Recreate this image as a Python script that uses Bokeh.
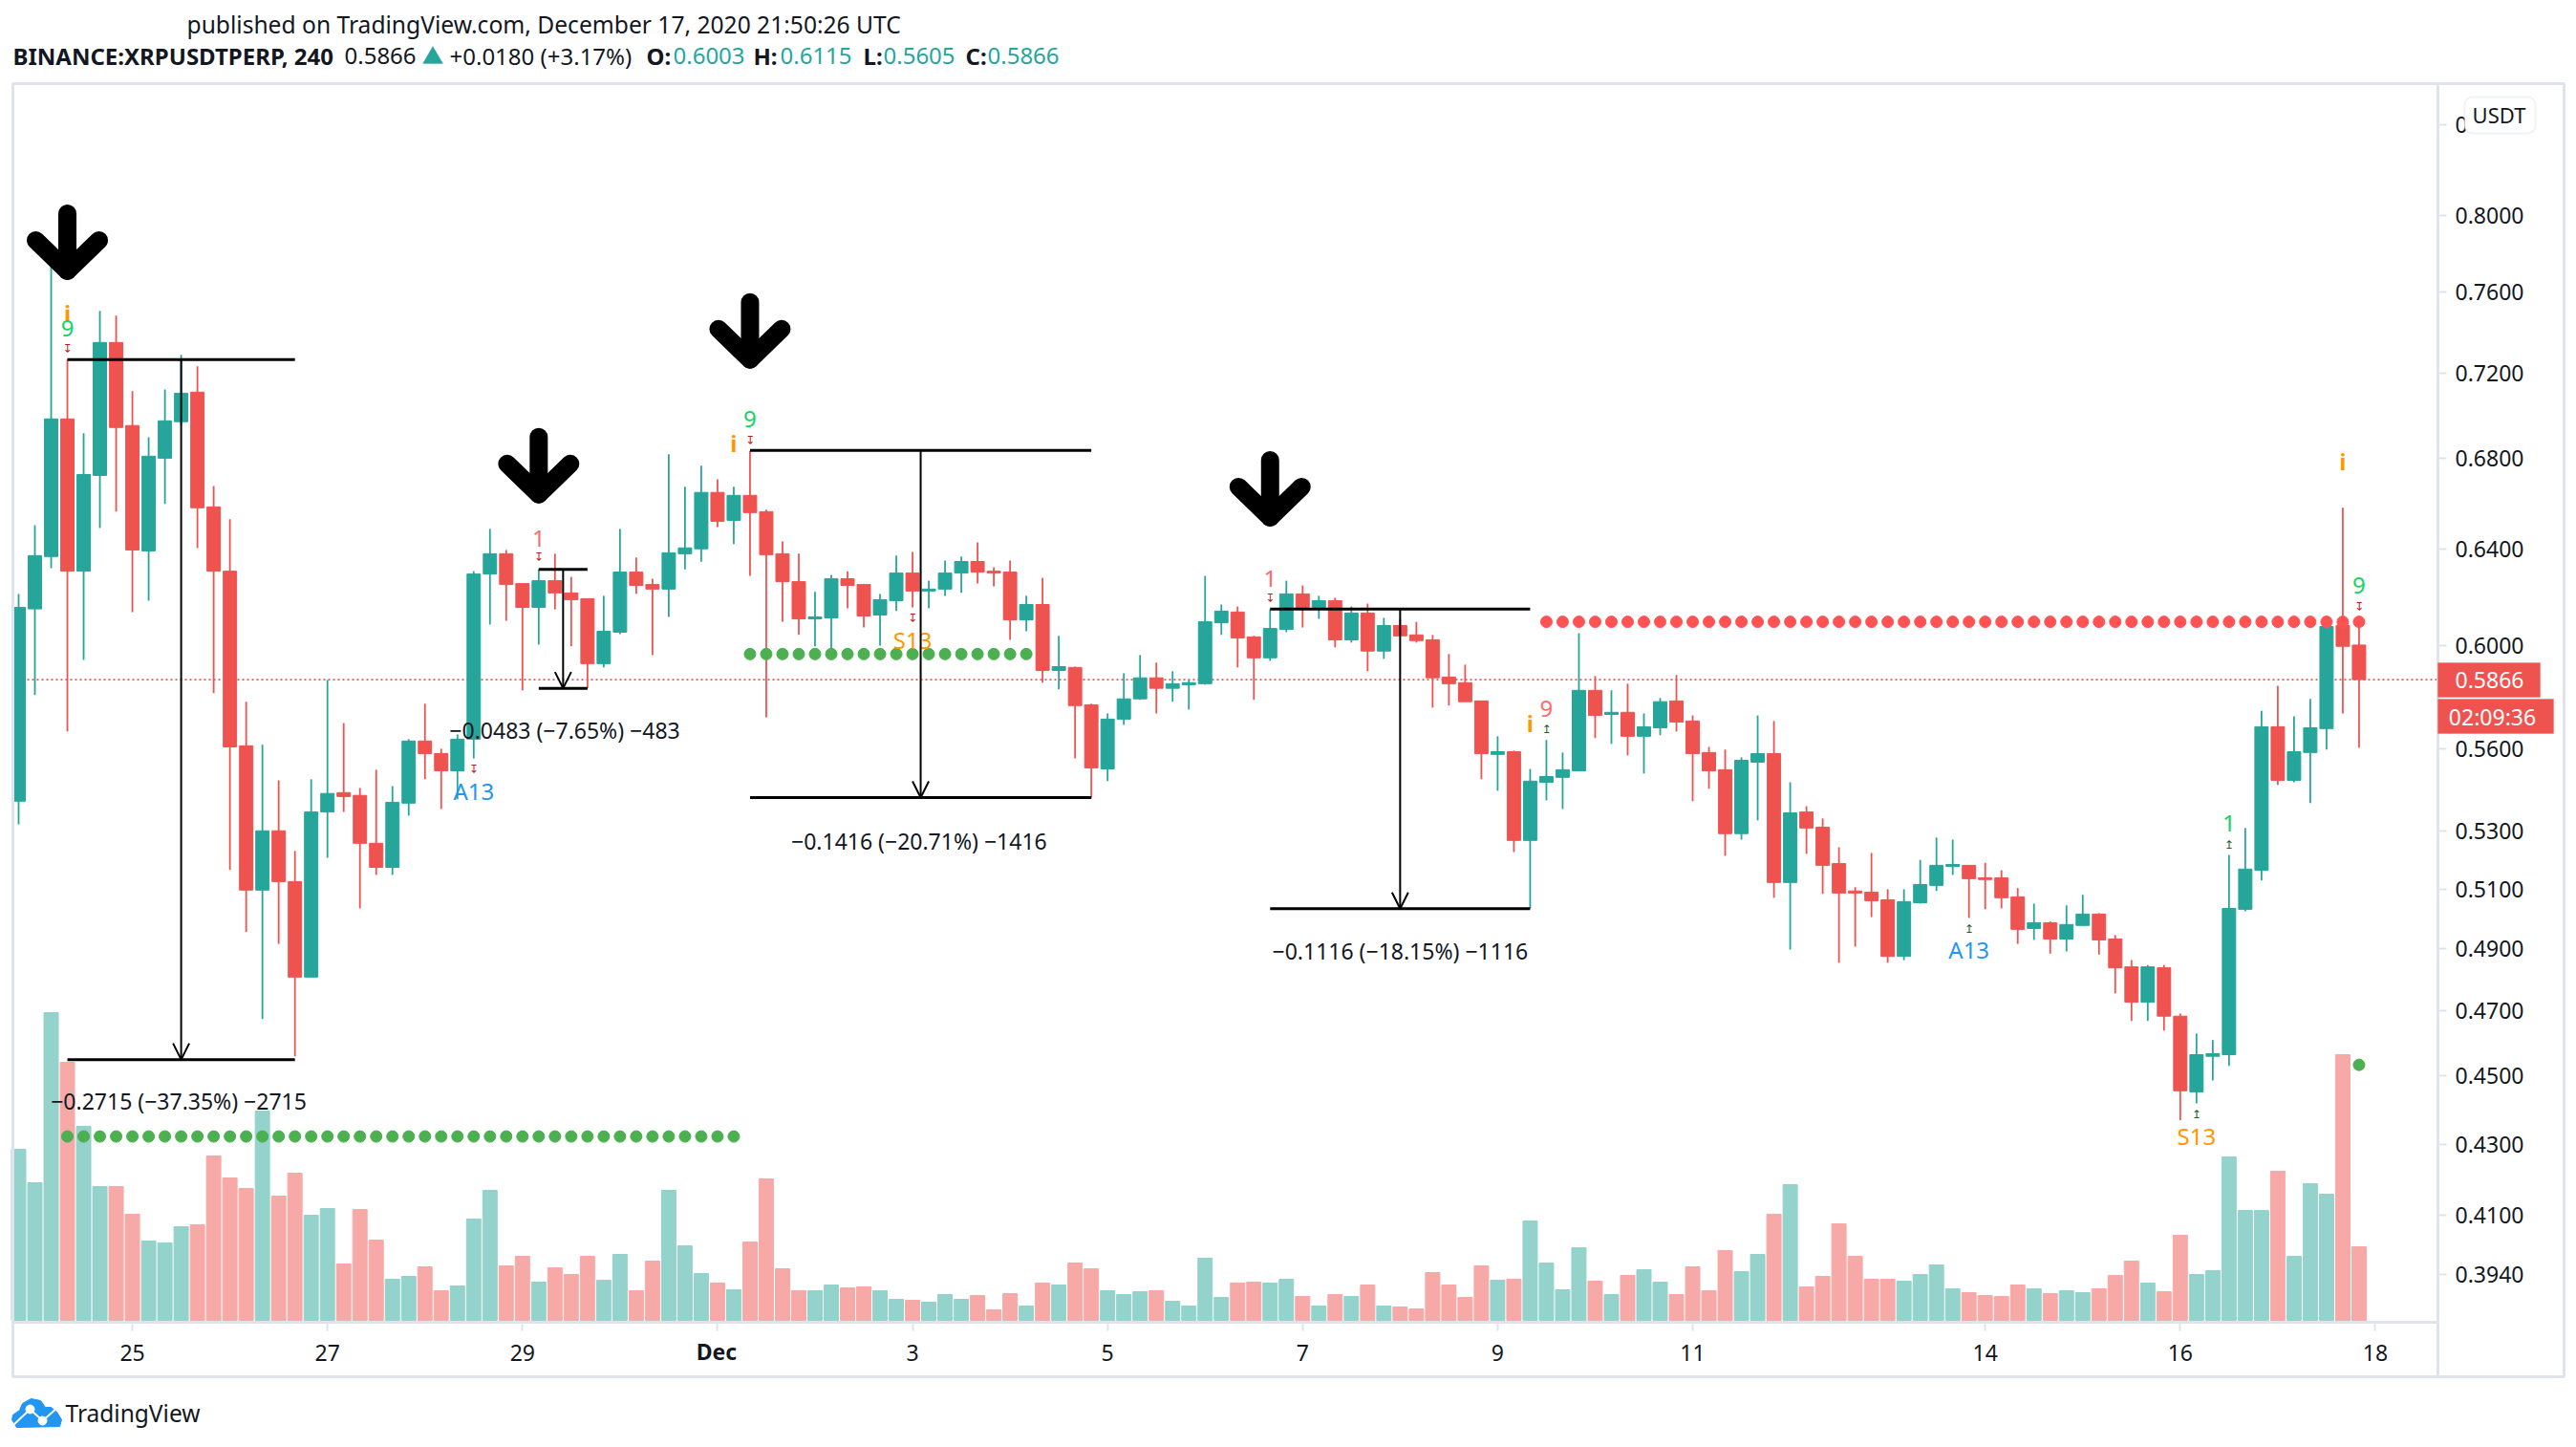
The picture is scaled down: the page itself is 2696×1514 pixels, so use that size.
import math
from bokeh.plotting import figure
from bokeh.models import (Range1d, LinearScale, FixedTicker, PrintfTickFormatter, Label,
                          PolyAnnotation, BoxAnnotation, ColumnDataSource, Arrow, OpenHead)
from bokeh.core.properties import value
from bokeh.embed import file_html
from bokeh.resources import INLINE

opens = [.5408,.6150,.6369,.6983,.6307,.6724,.7349,.6952,.6393,.6802,.6970,.7109,.6584,.6307,.5612,.5096,.5302,.5125,.4808,.5369,.5439,.5429,.5258,.5174,.5401,.5630,.5583,.5519,.5637,.6295,
 .6381,.6255,.6156,.6267,.6216,.6192,.5929,.6055,.6303,.6251,.6232,.6381,.6402,.6648,.6525,.6635,.6563,.6381,.6263,.6109,.6113,.6275,.6251,.6125,.6184,.6299,.6224,.6232,.6299,.6348,
 .6307,.6303,.6105,.6168,.5902,.5914,.5768,.5526,.5713,.5791,.5873,.5832,.5846,.5850,.6093,.6137,.6036,.5952,.6066,.6212,.6156,.6184,.6024,.6133,.5979,.6082,.6044,.6024,.5876,.5854,
 .5783,.5580,.5590,.5268,.5477,.5495,.5519,.5824,.5731,.5739,.5648,.5680,.5783,.5706,.5587,.5523,.5292,.5551,.5583,.5122,.5369,.5315,.5187,.5093,.5089,.5063,.4875,.5053,.5112,.5177,
 .5181,.5138,.5138,.5073,.4967,.4986,.4932,.4977,.5015,.4932,.4841,.4728,.4838,.4684,.4453,.4560,.4565,.5031,.5164,.5684,.5484,.5587,.5677,.6082,.6003]
highs = [.6212,.6504,.7748,.7265,.6916,.7506,.7482,.7114,.6898,.7122,.7289,.7233,.6677,.6530,.5780,.5616,.5484,.5231,.5488,.5865,.5698,.5456,.5523,.5463,.5637,.5772,.5601,.5655,.6307,.6488,
 .6397,.6255,.6315,.6381,.6283,.6192,.6204,.6488,.6365,.6275,.6820,.6673,.6768,.6707,.6673,.6835,.6572,.6434,.6381,.6220,.6291,.6307,.6251,.6212,.6373,.6389,.6267,.6352,.6369,.6430,
 .6324,.6352,.6204,.6279,.6040,.5917,.5772,.5735,.5891,.5963,.5933,.5899,.5865,.6287,.6168,.6160,.6040,.6148,.6267,.6247,.6204,.6196,.6160,.6172,.6113,.6109,.6097,.6044,.5967,.5925,
 .5783,.5648,.5594,.5526,.5634,.5587,.6051,.5880,.5824,.5850,.5735,.5794,.5884,.5727,.5608,.5598,.5569,.5727,.5706,.5477,.5390,.5346,.5244,.5106,.5224,.5099,.5099,.5200,.5278,.5271,
 .5181,.5190,.5164,.5103,.5050,.4990,.5044,.5080,.5018,.4945,.4863,.4847,.4847,.4692,.4630,.4610,.5217,.5312,.5745,.5842,.5724,.5791,.6078,.6580,.6115]
lows = [.5325,.5806,.6320,.5666,.5944,.6492,.6563,.6137,.6184,.6597,.6952,.6405,.5813,.5165,.4955,.4675,.4916,.4560,.4808,.5207,.5369,.5034,.5148,.5148,.5356,.5488,.5380,.5415,.5565,.6086,
 .6101,.5824,.6005,.6148,.5998,.5832,.5914,.6047,.6212,.5963,.6117,.6315,.6347,.6496,.6422,.6287,.5720,.6097,.6044,.5998,.5952,.6152,.6074,.6001,.6141,.6156,.6152,.6204,.6216,.6255,
 .6243,.6024,.6059,.5854,.5828,.5565,.5421,.5481,.5691,.5787,.5735,.5780,.5750,.5846,.6044,.5914,.5787,.5940,.6055,.6074,.6109,.5994,.6013,.5899,.5948,.6040,.6013,.5757,.5765,.5780,
 .5488,.5446,.5227,.5034,.5411,.5380,.5519,.5641,.5619,.5576,.5509,.5652,.5666,.5408,.5453,.5214,.5271,.5339,.5070,.4897,.5221,.5083,.4854,.4907,.5005,.4854,.4863,.5050,.5093,.5148,
 .5002,.5031,.5034,.4916,.4929,.4884,.4891,.4977,.4881,.4756,.4669,.4669,.4639,.4369,.4419,.4487,.4531,.5024,.5129,.5467,.5477,.5401,.5598,.5735,.5605]
closes = [.6156,.6373,.6983,.6307,.6728,.7349,.6943,.6397,.6811,.6974,.7104,.6580,.6307,.5608,.5096,.5302,.5125,.4808,.5369,.5436,.5425,.5258,.5174,.5404,.5630,.5583,.5519,.5637,.6295,.6381,
 .6251,.6156,.6267,.6216,.6188,.5929,.6059,.6303,.6247,.6232,.6385,.6406,.6648,.6521,.6635,.6559,.6377,.6263,.6109,.6117,.6275,.6247,.6121,.6188,.6299,.6224,.6232,.6299,.6348,.6303,
 .6299,.6105,.6168,.5902,.5917,.5765,.5530,.5713,.5791,.5873,.5832,.5850,.5854,.6097,.6141,.6032,.5952,.6070,.6212,.6156,.6184,.6024,.6133,.5979,.6082,.6040,.6021,.5873,.5850,.5780,
 .5583,.5590,.5268,.5481,.5498,.5523,.5824,.5727,.5739,.5648,.5684,.5780,.5702,.5583,.5519,.5292,.5558,.5583,.5122,.5366,.5312,.5181,.5086,.5086,.5060,.4875,.5057,.5115,.5181,.5184,
 .5135,.5132,.5070,.4964,.4986,.4932,.4980,.5015,.4929,.4838,.4728,.4841,.4684,.4456,.4565,.4568,.5034,.5168,.5684,.5484,.5590,.5680,.6078,.5998,.5866]
volumes = [179,144,322,270,203,140,140,111,83,81,98,100,172,149,138,219,130,154,110,117,59,116,84,43,46,56,31,36,106,136,
 57,67,40,55,48,67,42,69,31,62,136,78,49,39,32,82,148,54,31,31,37,34,35,31,22,21,19,27,22,26,
 11,28,15,39,37,60,54,31,27,30,31,20,15,65,24,39,40,39,43,25,15,27,25,37,15,14,12,50,37,24,
 57,42,43,104,60,32,76,41,27,47,53,40,27,56,31,73,51,69,111,142,35,46,101,67,43,43,41,48,58,33,
 29,26,25,37,33,28,31,29,33,47,62,39,30,89,48,52,171,115,115,156,67,143,132,278,77]

x_ticks = [7,19,31,43,55,67,79,91,103,121,133,145]
x_labels = ["25","27","29","","3","5","7","9","11","14","16","18"]
y_ticks = [.85,.80,.76,.72,.68,.64,.60,.56,.53,.51,.49,.47,.45,.43,.41,.394]

dots_green_a = (list(range(3,45)), .4322)
dots_green_b = (list(range(45,63)), .5967)
dots_red = (list(range(94,145)), .6097)
dot_last = ([144], .4534)
last_price = .5866

m_i0 = [3,32,45,77]; m_i1 = [17,35,66,93]
m_top = [.7265,.6315,.6837,.6149]; m_bot = [.4550,.5832,.5421,.5033]
m_xmid = [10,33.5,55.5,85]
m_text = ["\u22120.2715 (\u221237.35%) \u22122715","\u22120.0483 (\u22127.65%) \u2212483","\u22120.1416 (\u221220.71%) \u22121416","\u22120.1116 (\u221218.15%) \u22121116"]
m_tx = [9.85,33.6,55.4,85]; m_ty = [.4425,.5670,.5265,.4894]

arrow_i = [3,32,45,77]; arrow_tip = [.766,.6597,.7219,.6496]

lab_i = [3,3,3,32,32,45,44,45,28,28,55,55,77,77,94,93,94,143,144,144,136,136,120,120,134,134]
lab_p = [.7497,.7420,.7319,.6447,.6365,.6983,.6872,.6883,.5526,.5446,.6113,.6024,.6275,.6192,.5753,.5698,.5673,.6788,.6247,.6160,.5329,.5254,.4964,.4897,.4386,.4325]
lab_t = ["i","9","\u21a7","1","\u21a7","9","i","\u21a7","\u21a7","A13","\u21a7","S13","1","\u21a7","9","i","\u21a5","i","9","\u21a7","1","\u21a5","\u21a5","A13","\u21a5","S13"]

RED="#ef5350"; GRN="#26a69a"; LINE="#e0e3eb"; INK="#131722"
FONT="Noto Sans"
L,T,R,B = 13,87,2551,1383     # pane edges in page pixels
W,H = 2690,1505
XS = 17.01; I0 = 19.0; K = 1565.0
n = len(opens)
idx = list(range(n))

def dx(x): return (x-I0)/XS
def dy(y): return .8*math.exp(-(y-225)/K)

# the frame fills the whole page so that header, price tags and logo can be drawn;
# the two axes are pinned to the pane's edges
p = figure(width=W, height=H, output_backend="svg", toolbar_location=None, y_axis_type="log",
           y_axis_location="right", x_range=Range1d(dx(0),dx(W)), y_range=Range1d(dy(H),dy(0)),
           min_border_left=0, min_border_top=0, min_border_right=0, min_border_bottom=0)
p.grid.visible=False
p.background_fill_color="white"; p.border_fill_color="white"
p.outline_line_color=None

p.xaxis.ticker=FixedTicker(ticks=x_ticks)
p.xaxis.major_label_overrides={t:l for t,l in zip(x_ticks,x_labels)}
p.xaxis.fixed_location=dy(B); p.xaxis.bounds=(dx(L),dx(R))
p.yaxis.ticker=FixedTicker(ticks=y_ticks)
p.yaxis.formatter=PrintfTickFormatter(format="%.4f")
p.yaxis.fixed_location=dx(R); p.yaxis.bounds=(dy(B),dy(T))
for ax in (p.xaxis[0],p.yaxis[0]):
    ax.axis_line_color=LINE; ax.axis_line_width=3
    ax.major_tick_line_color=LINE; ax.major_tick_line_width=2
    ax.major_tick_out=9; ax.major_tick_in=0; ax.minor_tick_line_color=None
    ax.major_label_text_font=FONT; ax.major_label_text_font_size="23px"; ax.major_label_text_color=INK
p.xaxis.major_label_standoff=14
p.yaxis.major_label_standoff=9

p.extra_y_ranges={"vol":Range1d(1381-H,1381)}
p.extra_y_scales={"vol":LinearScale()}
colors=[GRN if c>=o else RED for o,c in zip(opens,closes)]
vcol=["#94d2cc" if c==GRN else "#f7a9a7" for c in colors]
p.vbar(x=idx,top=volumes,bottom=0,width=.88,color=vcol,y_range_name="vol")

p.line(x=[dx(L),dx(R)],y=[last_price,last_price],line_color=RED,line_width=1.7,line_dash="2 3")
p.segment(x0=idx,x1=idx,y0=lows,y1=highs,color=colors,line_width=1.8)
p.vbar(x=idx,top=[max(a,b) for a,b in zip(opens,closes)],bottom=[min(a,b) for a,b in zip(opens,closes)],
       width=.82,color=colors)

# page box
p.multi_line(xs=[[dx(v) for v in (R,2683,2683,L,L,R)],[dx(R),dx(R)]],
             ys=[[dy(v) for v in (T,T,1440,1440,T,T)],[dy(B),dy(1440)]],line_color=LINE,line_width=3)

for (xs,yv),col in ((dots_green_a,"#4caf50"),(dots_green_b,"#4caf50"),(dots_red,"#ff5252"),(dot_last,"#4caf50")):
    p.scatter(x=xs,y=[yv]*len(xs),size=12,color=col)

p.segment(x0=m_i0,x1=m_i1,y0=m_top,y1=m_top,color="black",line_width=3)
p.segment(x0=m_i0,x1=m_i1,y0=m_bot,y1=m_bot,color="black",line_width=3)
for x,a,b in zip(m_xmid,m_top,m_bot):
    p.add_layout(Arrow(end=OpenHead(size=17,line_color="black",line_width=2),x_start=x,x_end=x,y_start=a,y_end=b,
                       line_color="black",line_width=2))
p.text(x=m_tx,y=m_ty,text=m_text,text_font=value(FONT),text_font_size="23px",text_color="#131722",
       text_align="center",text_baseline="middle")

ax_=[];ay_=[]
for i,tip in zip(arrow_i,arrow_tip):
    up=lambda px: tip*math.exp(px/K)
    ax_+= [[i,i],[i-33/XS,i,i+33/XS]]
    ay_+= [[up(70),up(10)],[up(42),up(10),up(42)]]
p.multi_line(xs=ax_,ys=ay_,line_color="black",line_width=19,line_cap="round",line_join="round")

col_for={"i":"#ff9800","A13":"#2196f3","S13":"#ff9800"}
def lab_col(i,t):
    if t in col_for: return col_for[t]
    if t=="\u21a7": return "#b71c1c"
    if t=="\u21a5": return "#1b5e20"
    if (i,t) in ((3,"9"),(45,"9"),(144,"9"),(136,"1")): return "#13d463"
    return "#ff6b6b"
lab_c=[lab_col(i,t) for i,t in zip(lab_i,lab_t)]
lab_f=["DejaVu Sans" if t in ("\u21a7","\u21a5") else FONT for t in lab_t]
lab_s=["12px" if t in ("\u21a7","\u21a5") else "24px" for t in lab_t]
lab_w=["bold" if t=="i" else "normal" for t in lab_t]
src=ColumnDataSource(dict(x=lab_i,y=lab_p,t=lab_t,c=lab_c,f=lab_f,s=lab_s,w=lab_w))
p.text(x="x",y="y",text="t",text_color="c",text_font="f",text_font_size="s",text_font_style="w",
       text_align="center",text_baseline="middle",source=src)

def lab(x,y,t,size=24,col=INK,style="normal",align="left"):
    p.add_layout(Label(x=dx(x),y=dy(y),text=t,text_font=FONT,text_font_size=f"{size}px",text_color=col,
                       text_font_style=style,text_align=align,text_baseline="middle"))
def poly(xs,ys,fill):
    p.add_layout(PolyAnnotation(xs=[dx(v) for v in xs],ys=[dy(v) for v in ys],xs_units="data",ys_units="data",
        fill_color=fill,fill_alpha=1,line_color=fill,line_width=1))

poly([R,2658,2658,R],[693,693,729,729],RED)
poly([R,2672,2672,R],[731,731,767,767],RED)
lab(2605,711,"0.5866",23,"white",align="center")
lab(2608,749,"02:09:36",23,"white",align="center")
p.add_layout(BoxAnnotation(left=dx(2579),right=dx(2653),top=dy(101),bottom=dy(139),border_radius=8,
                           fill_color="white",fill_alpha=1,line_color="#d1d4dc",line_width=2))
lab(2615,119,"USDT",22,INK,align="center")
lab(749.5,1413,"Dec",23,INK,"bold",align="center")

lab(195,25,"published on TradingView.com, December 17, 2020 21:50:26 UTC",24.6,INK)
lab(13,58,"BINANCE:XRPUSDTPERP, 240",24,INK,"bold")
lab(360,58,"0.5866",24,INK)
lab(470,58,"+0.0180 (+3.17%)",24,INK)
poly([442,463,452.5],[66,66,48],GRN)
for x,t,b in ((676,"O:",True),(704,"0.6003",False),(788,"H:",True),(816,"0.6115",False),(903,"L:",True),(924,"0.5605",False),(1010,"C:",True),(1033,"0.5866",False)):
    lab(x,58,t,24,INK if b else GRN,"bold" if b else "normal")

lab(68,1478,"TradingView",24.5,INK)
p.patch(x=[dx(v) for v in (12,13,20,23,32,42,47,53,59,64,62,17)],
        y=[dy(v) for v in (1485,1480,1475,1468,1463,1465,1472,1472,1477,1485,1492,1493)],color="#2196f3")
p.line(x=[dx(v) for v in (14,31,44,59)],y=[dy(v) for v in (1490,1474,1486,1473)],line_color="white",line_width=2)
p.scatter(x=[dx(31),dx(44)],y=[dy(1474),dy(1486)],size=9,color="white")

open("out.html","w").write(file_html(p,INLINE))
